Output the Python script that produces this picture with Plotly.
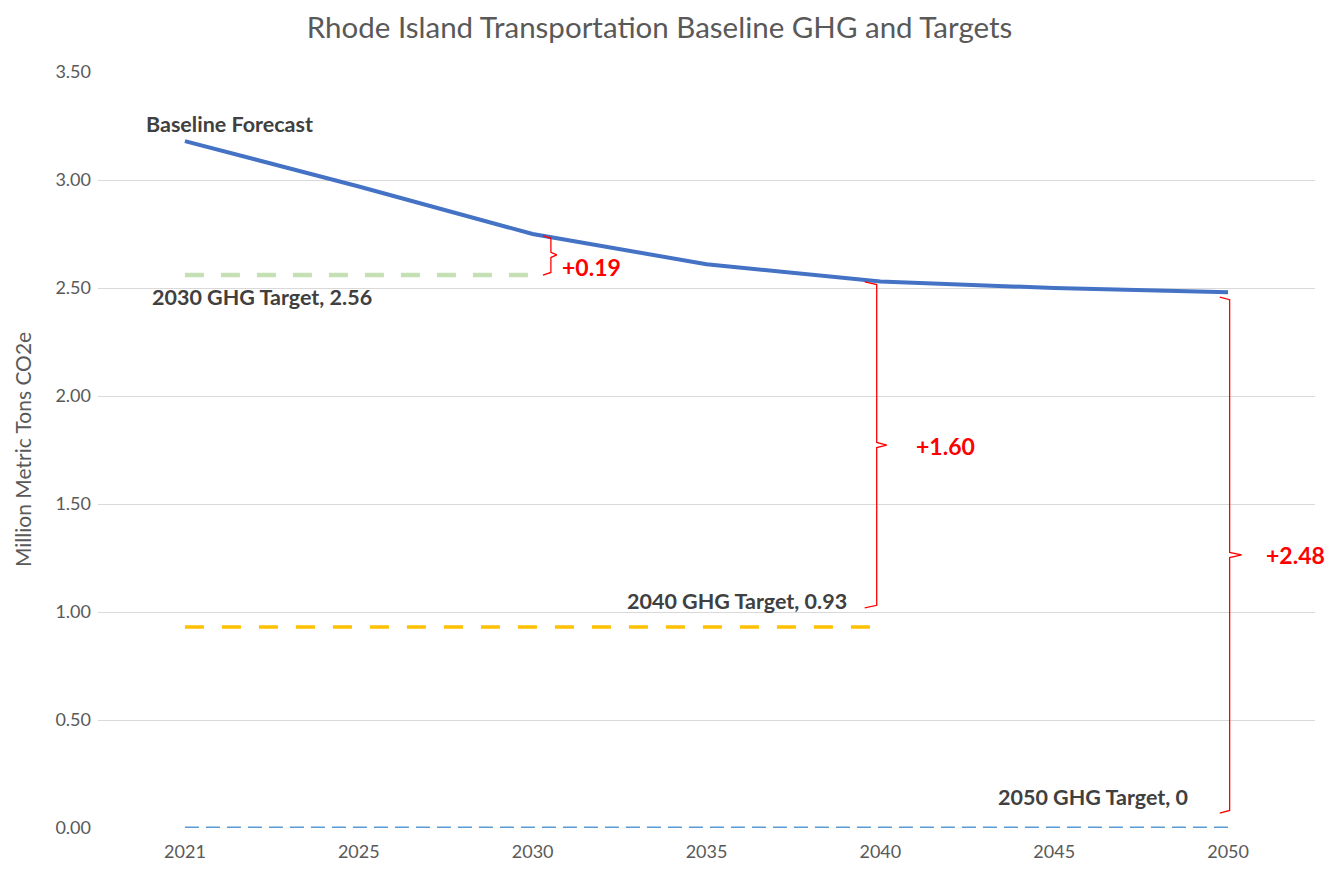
import plotly.graph_objects as go

years = ["2021", "2025", "2030", "2035", "2040", "2045", "2050"]
baseline = [3.18, 2.97, 2.75, 2.61, 2.53, 2.50, 2.48]
target_2030 = 2.56
target_2040 = 0.93
target_2050 = 0.0
gap_labels = ["+0.19", "+1.60", "+2.48"]

idx = list(range(len(years)))
FONT = "Lato"
GRAY = "#595959"
DARK = "#404040"
RED = "#FF0000"

fig = go.Figure()

# Target lines
fig.add_trace(go.Scatter(x=idx[:3], y=[target_2030] * 3, mode="lines",
                         line=dict(color="#C5E0B4", width=4.5, dash="19px,17px"),
                         hoverinfo="skip", showlegend=False))
fig.add_trace(go.Scatter(x=idx[:5], y=[target_2040] * 5, mode="lines",
                         line=dict(color="#FFC000", width=3.5, dash="19px,18px"),
                         hoverinfo="skip", showlegend=False))
fig.add_trace(go.Scatter(x=idx, y=[target_2050] * 7, mode="lines",
                         line=dict(color="#5B9BD5", width=3, dash="14px,7px"),
                         hoverinfo="skip", showlegend=False))
# Baseline
fig.add_trace(go.Scatter(x=idx, y=baseline, mode="lines",
                         line=dict(color="#4472C4", width=4),
                         showlegend=False))


def brace(xc, ytop, ybot, ymid, hook, tip):
    xs = [xc - hook, xc, xc, xc + tip, xc, xc, xc - hook]
    ys = [ytop, ytop - 0.012, ymid + 0.012, ymid, ymid - 0.012, ybot + 0.012, ybot]
    return xs, ys


# (x of vertical, top, bottom, middle, hook length, tip length) in axis units
braces = [
    (2.105, baseline[2] - 0.008, target_2030, 2.653, 0.046, 0.034),
    (3.979, baseline[4] - 0.002, target_2040 + 0.089, 1.773, 0.069, 0.058),
    (6.009, baseline[6] - 0.022, target_2050 + 0.069, 1.264, 0.057, 0.069),
]
for xc, yt, yb, ym, h, t in braces:
    xs, ys = brace(xc, yt, yb, ym, h, t)
    fig.add_trace(go.Scatter(x=xs, y=ys, mode="lines",
                             line=dict(color=RED, width=1.3),
                             hoverinfo="skip", showlegend=False))

# Gap labels
gap_pos = [(2.156, 2.597), (4.192, 1.769), (6.205, 1.264)]
for (gx, gy), txt in zip(gap_pos, gap_labels):
    fig.add_annotation(x=gx, y=gy, text="<b>" + txt + "</b>", showarrow=False,
                       xanchor="left", yanchor="middle",
                       font=dict(family=FONT, size=23, color=RED))

# Series labels
labels = [
    (-0.236, 3.259, "Baseline Forecast"),
    (-0.201, 2.458, "2030 GHG Target, 2.56"),
    (2.530, 1.051, "2040 GHG Target, 0.93"),
    (4.664, 0.1435, "2050 GHG Target, 0"),
]
for lx, ly, txt in labels:
    fig.add_annotation(x=lx, y=ly, text="<b>" + txt + "</b>", showarrow=False,
                       xanchor="left", yanchor="middle",
                       font=dict(family=FONT, size=21.5, color=DARK))

# Y axis title
fig.add_annotation(x=-0.0624, y=0.5, xref="paper", yref="paper",
                   text="Million Metric Tons CO2e", textangle=-90,
                   showarrow=False, xanchor="center", yanchor="middle",
                   font=dict(family=FONT, size=21, color=GRAY))

fig.update_layout(
    width=1319, height=853,
    margin=dict(l=90, r=12, t=64, b=33, autoexpand=False),
    paper_bgcolor="white", plot_bgcolor="white",
    title=dict(text="Rhode Island Transportation Baseline GHG and Targets",
               x=0.494, xanchor="center", y=1 - 19.5 / 853, yanchor="middle",
               font=dict(family=FONT, size=29.5, color=GRAY)),
    xaxis=dict(range=[-0.5, 6.5], tickmode="array", tickvals=idx, ticktext=years,
               showgrid=False, zeroline=False, showline=False, automargin=False,
               tickfont=dict(family=FONT, size=18, color=GRAY),
               ticklabelstandoff=11),
    yaxis=dict(range=[0, 3.5], tickmode="array",
               tickvals=[0, 0.5, 1, 1.5, 2, 2.5, 3, 3.5], tickformat=".2f",
               showgrid=True, gridcolor="#D9D9D9", gridwidth=1,
               zeroline=False, showline=False, automargin=False,
               tickfont=dict(family=FONT, size=18, color=GRAY),
               ticklabelstandoff=6),
)

fig.write_html("out.html")
